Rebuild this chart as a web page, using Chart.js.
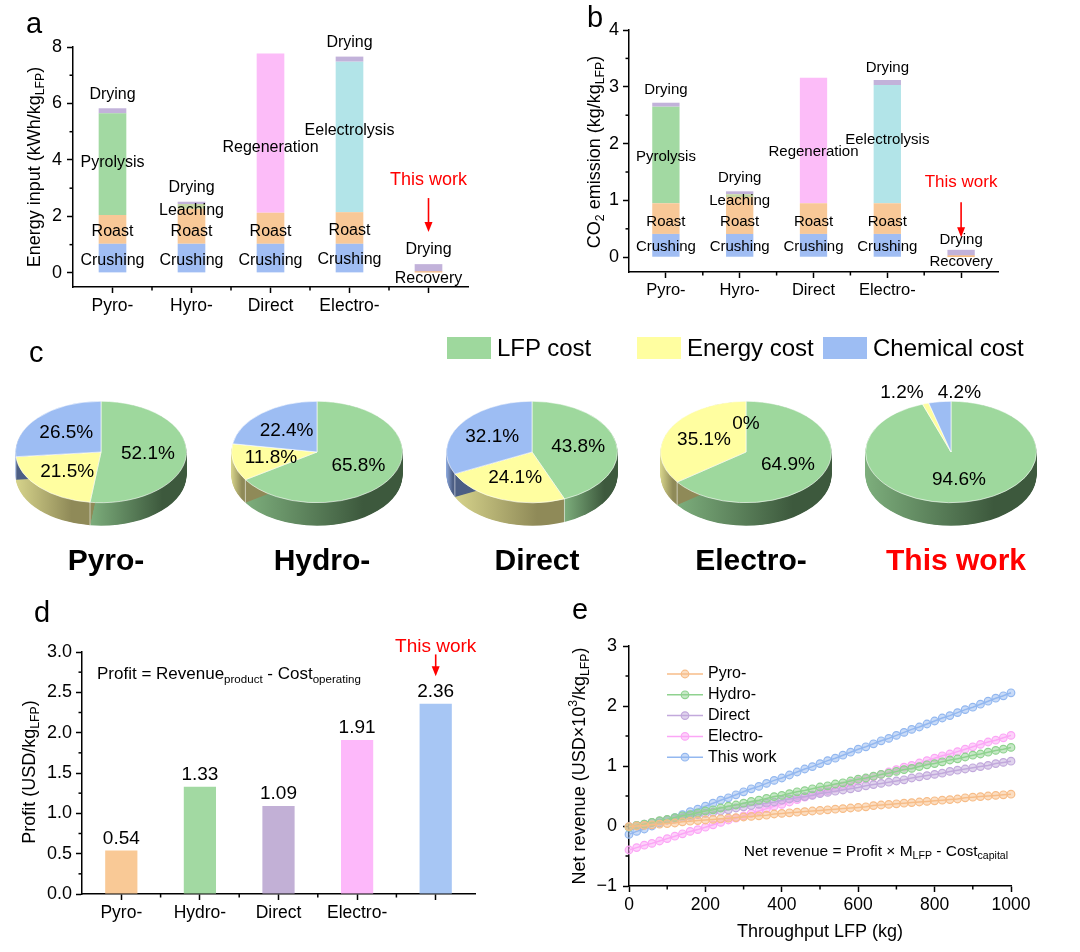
<!DOCTYPE html>
<html>
<head>
<meta charset="utf-8">
<script src="https://cdn.jsdelivr.net/npm/chart.js@4.4.1/dist/chart.umd.min.js"></script>
<style>
  html, body { margin: 0; padding: 0; background: #fff; }
  #fig { position: relative; width: 1080px; height: 952px; overflow: hidden;
         font-family: 'Liberation Sans', Arial, sans-serif; color: #000; }
  canvas { position: absolute; }
  .tag { position: absolute; font-size: 29px; line-height: 29px; }
  .pname { position: absolute; width: 200px; text-align: center; font-size: 30px; line-height: 30px; font-weight: bold; }
  .leg { position: absolute; font-size: 24px; line-height: 24px; white-space: nowrap; }
  .box { position: absolute; width: 44px; height: 22px; }
</style>
</head>
<body>
<div id="fig">
  <canvas id="ca" width="500" height="330" style="left:0;top:0"></canvas>
  <canvas id="cb" width="540" height="330" style="left:500px;top:0"></canvas>
  <canvas id="cd" width="500" height="352" style="left:0;top:600px"></canvas>
  <canvas id="ce" width="540" height="372" style="left:540px;top:580px"></canvas>

  <div class="tag" style="left:26px;top:9px">a</div>
  <div class="tag" style="left:587px;top:3px">b</div>
  <div class="tag" style="left:29px;top:338px">c</div>
  <div class="tag" style="left:34px;top:598px">d</div>
  <div class="tag" style="left:572px;top:595px">e</div>
</div>
<script>
// ---- data ----
var processes = ['Pyro-', 'Hyro-', 'Direct', 'Electro-', ''];

// energy input, kWh/kg LFP (stack segments)
var recoveryE     = [0, 0, 0, 0, 0.05];
var crushingE     = [1.03, 1.03, 1.03, 1.03, 0];
var roastE        = [1.02, 1.24, 1.10, 1.12, 0];
var leachingE     = [0, 0.17, 0, 0, 0];
var pyrolysisE    = [3.60, 0, 0, 0, 0];
var regenerationE = [0, 0, 5.64, 0, 0];
var electrolysisE = [0, 0, 0, 5.33, 0];
var dryingE       = [0.18, 0.08, 0, 0.18, 0.26];

// CO2 emission, kg/kg LFP
var recoveryC     = [0, 0, 0, 0, 0.03];
var crushingC     = [0.41, 0.41, 0.41, 0.41, 0];
var roastC        = [0.54, 0.65, 0.54, 0.54, 0];
var leachingC     = [0, 0.05, 0, 0, 0];
var pyrolysisC    = [1.70, 0, 0, 0, 0];
var regenerationC = [0, 0, 2.21, 0, 0];
var electrolysisC = [0, 0, 0, 2.08, 0];
var dryingC       = [0.07, 0.05, 0, 0.09, 0.10];

// cost shares, %
var pieNames      = ['Pyro-', 'Hydro-', 'Direct', 'Electro-', 'This work'];
var costLabels    = ['LFP cost', 'Energy cost', 'Chemical cost'];
var lfpShare      = [52.1, 65.8, 43.8, 64.9, 94.6];
var energyShare   = [21.5, 11.8, 24.1, 35.1, 1.2];
var chemicalShare = [26.5, 22.4, 32.1, 0, 4.2];

// profit, USD/kg LFP
var profitLabels = ['Pyro-', 'Hydro-', 'Direct', 'Electro-', ''];
var profit       = [0.54, 1.33, 1.09, 1.91, 2.36];

// net revenue, USD x10^3 / kg LFP
var seriesNames = ['Pyro-', 'Hydro-', 'Direct', 'Electro-', 'This work'];
var throughput = [0,20,40,60,80,100,120,140,160,180,200,220,240,260,280,300,320,340,360,380,400,420,440,460,480,500,
  520,540,560,580,600,620,640,660,680,700,720,740,760,780,800,820,840,860,880,900,920,940,960,980,1000];
var revPyro = [-0.01,0.00,0.01,0.02,0.03,0.04,0.05,0.07,0.08,0.09, 0.10,0.11,0.12,0.13,0.14,0.15,0.16,0.17,0.18,0.20,
  0.21,0.22,0.23,0.24,0.25,0.26,0.27,0.28,0.29,0.30, 0.31,0.32,0.34,0.35,0.36,0.37,0.38,0.39,0.40,0.41,
  0.42,0.43,0.44,0.45,0.47,0.48,0.49,0.50,0.51,0.52, 0.53];
var revHydro = [-0.02,0.01,0.03,0.06,0.09,0.11,0.14,0.17,0.19,0.22, 0.25,0.27,0.30,0.33,0.35,0.38,0.41,0.43,0.46,0.49,
  0.51,0.54,0.57,0.59,0.62,0.65,0.67,0.70,0.72,0.75, 0.78,0.80,0.83,0.86,0.88,0.91,0.94,0.96,0.99,1.02,
  1.04,1.07,1.10,1.12,1.15,1.18,1.20,1.23,1.26,1.28, 1.31];
var revDirect = [-0.01,0.01,0.03,0.06,0.08,0.10,0.12,0.14,0.16,0.19, 0.21,0.23,0.25,0.27,0.30,0.32,0.34,0.36,0.38,0.40,
  0.43,0.45,0.47,0.49,0.51,0.54,0.56,0.58,0.60,0.62, 0.64,0.67,0.69,0.71,0.73,0.75,0.77,0.80,0.82,0.84,
  0.86,0.88,0.91,0.93,0.95,0.97,0.99,1.01,1.04,1.06, 1.08];
var revElectro = [-0.40,-0.36,-0.32,-0.29,-0.25,-0.21,-0.17,-0.13,-0.09,-0.06, -0.02,0.02,0.06,0.10,0.13,0.17,0.21,0.25,0.29,0.33,
  0.36,0.40,0.44,0.48,0.52,0.56,0.59,0.63,0.67,0.71, 0.75,0.78,0.82,0.86,0.90,0.94,0.98,1.01,1.05,1.09,
  1.13,1.17,1.20,1.24,1.28,1.32,1.36,1.40,1.43,1.47, 1.51];
var revThis = [-0.14,-0.09,-0.05,0.00,0.05,0.10,0.14,0.19,0.24,0.28, 0.33,0.38,0.43,0.47,0.52,0.57,0.62,0.66,0.71,0.76,
  0.80,0.85,0.90,0.95,0.99,1.04,1.09,1.13,1.18,1.23, 1.28,1.32,1.37,1.42,1.46,1.51,1.56,1.61,1.65,1.70,
  1.75,1.80,1.84,1.89,1.94,1.98,2.03,2.08,2.13,2.17, 2.22];

// ---- styling ----
var FONT = "'Liberation Sans', Arial, sans-serif";
Chart.defaults.font.family = FONT;
Chart.defaults.color = '#000';

var C = {
  recovery: '#f6a553', crushing: '#a0bdf3', roast: '#f8c897', leaching: '#c6d8a6',
  pyrolysis: '#a2d9a2', regeneration: '#fcbcf8', electrolysis: '#b2e4e8', drying: '#c2b2da'
};
var pieTop   = ['#9ed89d', '#fffea0', '#9dbdf3'];
var sideLite = ['#7dae7c', '#d6d38b', '#8aa5d8'];
var sideDark = ['#3d593d', '#8f8a58', '#4c5e84'];
var profitColors = ['#f9c996', '#a2d9a2', '#c2b0d6', '#fdb8fa', '#a7c6f4'];
var lineColors = ['#f7bd88', '#8fd28f', '#c2a9dc', '#fca6f6', '#93b8f0'];

// text with sub/superscripts drawn on canvas
function richText(ctx, parts, x, y, size, align, color) {
  ctx.save();
  ctx.fillStyle = color || '#000';
  ctx.textBaseline = 'middle';
  ctx.textAlign = 'left';
  var w = 0;
  var m = parts.map(function (p) {
    var fs = p[1] ? size * 0.68 : size;
    ctx.font = fs + 'px ' + FONT;
    var tw = ctx.measureText(p[0]).width;
    w += tw;
    return [p[0], p[1], fs, tw];
  });
  var cx = align === 'center' ? x - w / 2 : (align === 'right' ? x - w : x);
  m.forEach(function (p) {
    ctx.font = p[2] + 'px ' + FONT;
    var dy = p[1] === 'sub' ? size * 0.3 : (p[1] === 'sup' ? -size * 0.35 : 0);
    ctx.fillText(p[0], cx, y + dy);
    cx += p[3];
  });
  ctx.restore();
}

function seg(ctx, x1, y1, x2, y2) {
  ctx.beginPath(); ctx.moveTo(x1, y1); ctx.lineTo(x2, y2); ctx.stroke();
}

function arrow(ctx, x, y1, y2) {
  ctx.save();
  ctx.strokeStyle = '#ff0000'; ctx.fillStyle = '#ff0000'; ctx.lineWidth = 1.6;
  seg(ctx, x, y1, x, y2 - 8);
  ctx.beginPath(); ctx.moveTo(x - 4, y2 - 10); ctx.lineTo(x + 4, y2 - 10); ctx.lineTo(x, y2); ctx.closePath(); ctx.fill();
  ctx.restore();
}

// extra drawing per chart: minor ticks, titles, in-plot labels
function decor(cfg) {
  return {
    id: 'decor',
    afterDraw: function (chart) {
      var ctx = chart.ctx, a = chart.chartArea, xs = chart.scales.x, ys = chart.scales.y;
      ctx.save();
      ctx.strokeStyle = '#000'; ctx.lineWidth = 1.5;
      (cfg.minorY || []).forEach(function (v) {
        var y = ys.getPixelForValue(v); seg(ctx, a.left, y, a.left - 3.5, y);
      });
      if (cfg.minorX === 'between') {
        for (var i = 0; i < xs.ticks.length - 1; i++) {
          var x = (xs.getPixelForValue(i) + xs.getPixelForValue(i + 1)) / 2;
          seg(ctx, x, a.bottom, x, a.bottom + 3.5);
        }
      } else {
        (cfg.minorX || []).forEach(function (v) {
          var x = xs.getPixelForValue(v); seg(ctx, x, a.bottom, x, a.bottom + 3.5);
        });
      }
      if (cfg.yTitle) {
        ctx.save();
        ctx.translate(cfg.yTitle.x, cfg.yTitle.y); ctx.rotate(-Math.PI / 2);
        richText(ctx, cfg.yTitle.parts, 0, 0, cfg.yTitle.size, 'center');
        ctx.restore();
      }
      if (cfg.xTitle) richText(ctx, cfg.xTitle.parts, cfg.xTitle.x, cfg.xTitle.y, cfg.xTitle.size, 'center');
      (cfg.labels || []).forEach(function (l) {
        ctx.font = (l.size || cfg.labelSize) + 'px ' + FONT;
        ctx.fillStyle = l.color || '#000';
        ctx.textAlign = 'center'; ctx.textBaseline = 'middle';
        ctx.fillText(l.t, xs.getPixelForValue(l.i), ys.getPixelForValue(l.v));
      });
      (cfg.arrows || []).forEach(function (r) {
        arrow(ctx, xs.getPixelForValue(r.i), ys.getPixelForValue(r.from), ys.getPixelForValue(r.to));
      });
      if (cfg.valueLabels) {
        var meta = chart.getDatasetMeta(0);
        ctx.font = '19px ' + FONT; ctx.fillStyle = '#000';
        ctx.textAlign = 'center'; ctx.textBaseline = 'middle';
        meta.data.forEach(function (bar, i) {
          ctx.fillText(chart.data.datasets[0].data[i].toFixed(2), bar.x, bar.y - 12);
        });
      }
      (cfg.rich || []).forEach(function (r) {
        var p = r.at(a, xs, ys);
        richText(ctx, r.parts, p[0], p[1], r.size, r.align);
      });
      if (cfg.legend) {
        var L = cfg.legend;
        chart.data.datasets.forEach(function (ds, k) {
          var y = a.top + L.top + k * L.dy, x0 = a.left + L.left;
          ctx.strokeStyle = ds.borderColor; ctx.lineWidth = 1.5;
          seg(ctx, x0, y, x0 + 36, y);
          ctx.beginPath(); ctx.arc(x0 + 18, y, 3.8, 0, Math.PI * 2);
          ctx.fillStyle = ds.pointBackgroundColor; ctx.fill(); ctx.lineWidth = 1.2; ctx.stroke();
          ctx.font = L.size + 'px ' + FONT; ctx.fillStyle = '#000';
          ctx.textAlign = 'left'; ctx.textBaseline = 'middle';
          ctx.fillText(ds.label, x0 + 41, y);
        });
      }
      ctx.restore();
    }
  };
}

function yAxis(o) {
  return {
    stacked: !!o.stacked, min: o.min, max: o.max,
    afterBuildTicks: function (s) { s.ticks = o.ticks.map(function (v) { return { value: v }; }); },
    afterFit: function (s) { s.width = o.width; },
    border: { display: true, color: '#000', width: 1.5 },
    grid: { drawOnChartArea: false, tickLength: 6, tickWidth: 1.5, tickColor: '#000' },
    ticks: { font: { size: 18 }, color: '#000', padding: o.pad, callback: o.fmt || function (v) { return String(v); } }
  };
}

function xCat(size, pad, stacked) {
  return {
    stacked: !!stacked,
    afterFit: function (s) { s.height = 30; },
    border: { display: true, color: '#000', width: 1.5 },
    grid: { offset: false, drawOnChartArea: false, tickLength: 6, tickWidth: 1.5, tickColor: '#000' },
    ticks: { font: { size: size }, color: '#000', padding: pad, maxRotation: 0, autoSkip: false }
  };
}

function stackSets(list) {
  return list.map(function (d) {
    return { label: d[0], data: d[1], backgroundColor: d[2], borderWidth: 0 };
  });
}

// ---- panel a ----
new Chart(document.getElementById('ca'), {
  type: 'bar',
  data: {
    labels: processes,
    datasets: stackSets([
      ['Recovery', recoveryE, C.recovery], ['Crushing', crushingE, C.crushing], ['Roast', roastE, C.roast],
      ['Leaching', leachingE, C.leaching], ['Pyrolysis', pyrolysisE, C.pyrolysis],
      ['Regeneration', regenerationE, C.regeneration], ['Electrolysis', electrolysisE, C.electrolysis],
      ['Drying', dryingE, C.drying]
    ])
  },
  options: {
    animation: false, responsive: false,
    layout: { padding: { left: 0, top: 47, right: 32, bottom: 13 } },
    datasets: { bar: { categoryPercentage: 1, barPercentage: 0.35 } },
    plugins: { legend: { display: false }, tooltip: { enabled: false } },
    scales: {
      x: xCat(17.5, 3, true),
      y: yAxis({ stacked: true, min: -0.5, max: 8, ticks: [0, 2, 4, 6, 8], width: 73, pad: 5 })
    }
  },
  plugins: [decor({
    minorY: [1, 3, 5, 7], minorX: 'between', labelSize: 16,
    yTitle: { x: 35, y: 167, size: 18, parts: [['Energy input (kWh/kg', ''], ['LFP', 'sub'], [')', '']] },
    labels: [
      { i: 0, v: 6.30, t: 'Drying' }, { i: 0, v: 3.89, t: 'Pyrolysis' }, { i: 0, v: 1.45, t: 'Roast' }, { i: 0, v: 0.42, t: 'Crushing' },
      { i: 1, v: 3.01, t: 'Drying' }, { i: 1, v: 2.19, t: 'Leaching' }, { i: 1, v: 1.45, t: 'Roast' }, { i: 1, v: 0.42, t: 'Crushing' },
      { i: 2, v: 4.42, t: 'Regeneration' }, { i: 2, v: 1.45, t: 'Roast' }, { i: 2, v: 0.42, t: 'Crushing' },
      { i: 3, v: 8.14, t: 'Drying' }, { i: 3, v: 5.03, t: 'Eelectrolysis' }, { i: 3, v: 1.49, t: 'Roast' }, { i: 3, v: 0.46, t: 'Crushing' },
      { i: 4, v: 3.29, t: 'This work', color: '#ff0000', size: 18 }, { i: 4, v: 0.81, t: 'Drying' }, { i: 4, v: -0.21, t: 'Recovery' }
    ],
    arrows: [{ i: 4, from: 2.65, to: 1.45 }]
  })]
});

// ---- panel b ----
new Chart(document.getElementById('cb'), {
  type: 'bar',
  data: {
    labels: processes,
    datasets: stackSets([
      ['Recovery', recoveryC, C.recovery], ['Crushing', crushingC, C.crushing], ['Roast', roastC, C.roast],
      ['Leaching', leachingC, C.leaching], ['Pyrolysis', pyrolysisC, C.pyrolysis],
      ['Regeneration', regenerationC, C.regeneration], ['Electrolysis', electrolysisC, C.electrolysis],
      ['Drying', dryingC, C.drying]
    ])
  },
  options: {
    animation: false, responsive: false,
    layout: { padding: { left: 0, top: 30, right: 42, bottom: 28 } },
    datasets: { bar: { categoryPercentage: 1, barPercentage: 0.37 } },
    plugins: { legend: { display: false }, tooltip: { enabled: false } },
    scales: {
      x: xCat(16.5, 3, true),
      y: yAxis({ stacked: true, min: -0.26, max: 4, ticks: [0, 1, 2, 3, 4], width: 129, pad: 4 })
    }
  },
  plugins: [decor({
    minorY: [0.5, 1.5, 2.5, 3.5], minorX: 'between', labelSize: 15,
    yTitle: { x: 95, y: 152, size: 18, parts: [['CO', ''], ['2', 'sub'], [' emission (kg/kg', ''], ['LFP', 'sub'], [')', '']] },
    labels: [
      { i: 0, v: 2.94, t: 'Drying' }, { i: 0, v: 1.76, t: 'Pyrolysis' }, { i: 0, v: 0.63, t: 'Roast' }, { i: 0, v: 0.19, t: 'Crushing' },
      { i: 1, v: 1.39, t: 'Drying' }, { i: 1, v: 0.99, t: 'Leaching' }, { i: 1, v: 0.63, t: 'Roast' }, { i: 1, v: 0.19, t: 'Crushing' },
      { i: 2, v: 1.85, t: 'Regeneration' }, { i: 2, v: 0.63, t: 'Roast' }, { i: 2, v: 0.19, t: 'Crushing' },
      { i: 3, v: 3.33, t: 'Drying' }, { i: 3, v: 2.06, t: 'Eelectrolysis' }, { i: 3, v: 0.63, t: 'Roast' }, { i: 3, v: 0.19, t: 'Crushing' },
      { i: 4, v: 1.32, t: 'This work', color: '#ff0000', size: 17 }, { i: 4, v: 0.31, t: 'Drying' }, { i: 4, v: -0.09, t: 'Recovery' }
    ],
    arrows: [{ i: 4, from: 0.97, to: 0.35 }]
  })]
});

// ---- panel c: tilted pies ----
var K = 0.593, DEPTH = 23;
var pie3d = {
  id: 'pie3d',
  beforeDatasetsDraw: function (chart) {
    var ctx = chart.ctx, meta = chart.getDatasetMeta(0);
    var cx = meta.data[0].x, cy = meta.data[0].y;
    ctx.save();
    ctx.translate(cx, cy); ctx.scale(1, K); ctx.translate(-cx, -cy);
    var D = DEPTH / K;
    meta.data.forEach(function (arc, i) {
      var s = arc.startAngle, e = arc.endAngle, r = arc.outerRadius;
      if (e - s <= 0) return;
      var a0 = Math.max(s, 0), a1 = Math.min(e, Math.PI);
      if (a1 <= a0) return;
      var g = ctx.createLinearGradient(cx + r * Math.cos(a1), 0, cx + r * Math.cos(a0), 0);
      g.addColorStop(0, sideLite[i]); g.addColorStop(0.75, sideDark[i]); g.addColorStop(1, sideDark[i]);
      ctx.fillStyle = g;
      for (var off = D; off >= 0; off -= 1) {
        ctx.beginPath(); ctx.moveTo(cx, cy + off); ctx.arc(cx, cy + off, r, s, e); ctx.closePath(); ctx.fill();
      }
    });
    ctx.strokeStyle = 'rgba(255,255,255,0.7)'; ctx.lineWidth = 1;
    meta.data.forEach(function (arc) {
      var t = arc.startAngle, r = arc.outerRadius;
      if (t > 0 && t < Math.PI) seg(ctx, cx + r * Math.cos(t), cy + r * Math.sin(t), cx + r * Math.cos(t), cy + r * Math.sin(t) + D);
    });
  },
  afterDatasetsDraw: function (chart) {
    var ctx = chart.ctx;
    ctx.restore();
    var meta = chart.getDatasetMeta(0), vals = chart.data.datasets[0].data;
    var cx = meta.data[0].x, cy = meta.data[0].y;
    ctx.save();
    ctx.font = '19px ' + FONT; ctx.fillStyle = '#000'; ctx.textBaseline = 'middle';
    meta.data.forEach(function (arc, i) {
      var v = vals[i], mid = (arc.startAngle + arc.endAngle) / 2, r = arc.outerRadius;
      var x, y, align = 'center';
      if (v > 0 && v < 5) {
        x = cx + r * Math.cos(mid) - 2; y = cy - K * r - 9; align = i === 1 ? 'right' : 'left';
      } else {
        x = cx + 0.55 * r * Math.cos(mid); y = cy + K * 0.55 * r * Math.sin(mid);
      }
      ctx.textAlign = align;
      ctx.fillText(v + '%', x, y);
    });
    ctx.restore();
  }
};

var pieCenters = [101, 317, 532, 746, 951];
var fig = document.getElementById('fig');
pieNames.forEach(function (name, k) {
  var cv = document.createElement('canvas');
  cv.width = 200; cv.height = 200;
  cv.style.left = (pieCenters[k] - 100) + 'px'; cv.style.top = '352px';
  fig.appendChild(cv);
  new Chart(cv, {
    type: 'pie',
    data: {
      labels: costLabels,
      datasets: [{
        data: [lfpShare[k], energyShare[k], chemicalShare[k]],
        backgroundColor: pieTop, borderColor: 'rgba(255,255,255,0.75)', borderWidth: 1
      }]
    },
    options: {
      animation: false, responsive: false, events: [],
      layout: { padding: 14 },
      plugins: { legend: { display: false }, tooltip: { enabled: false } }
    },
    plugins: [pie3d]
  });
  var d = document.createElement('div');
  d.className = 'pname';
  d.textContent = name;
  d.style.left = (pieCenters[k] + 5 - 100) + 'px';
  d.style.top = '545px';
  if (k === 4) d.style.color = '#ff0000';
  fig.appendChild(d);
});

var legX = [447, 637, 823];
costLabels.forEach(function (lab, i) {
  var b = document.createElement('div');
  b.className = 'box'; b.style.left = legX[i] + 'px'; b.style.top = '337px'; b.style.background = pieTop[i];
  fig.appendChild(b);
  var t = document.createElement('div');
  t.className = 'leg'; t.textContent = lab; t.style.left = (legX[i] + 50) + 'px'; t.style.top = '336px';
  fig.appendChild(t);
});

// ---- panel d ----
new Chart(document.getElementById('cd'), {
  type: 'bar',
  data: {
    labels: profitLabels,
    datasets: [{ label: 'Profit', data: profit, backgroundColor: profitColors, borderWidth: 0 }]
  },
  options: {
    animation: false, responsive: false,
    layout: { padding: { left: 0, top: 52, right: 25, bottom: 28 } },
    datasets: { bar: { categoryPercentage: 1, barPercentage: 0.41 } },
    plugins: { legend: { display: false }, tooltip: { enabled: false } },
    scales: {
      x: xCat(17.5, 3),
      y: yAxis({ min: 0, max: 3, ticks: [0, 0.5, 1, 1.5, 2, 2.5, 3], width: 82, pad: 4,
                 fmt: function (v) { return v.toFixed(1); } })
    }
  },
  plugins: [decor({
    minorY: [0.25, 0.75, 1.25, 1.75, 2.25, 2.75], minorX: 'between', valueLabels: true,
    yTitle: { x: 30, y: 172, size: 18, parts: [['Profit (USD/kg', ''], ['LFP', 'sub'], [')', '']] },
    labels: [{ i: 4, v: 3.07, t: 'This work', color: '#ff0000', size: 19 }],
    arrows: [{ i: 4, from: 2.97, to: 2.70 }],
    rich: [{ size: 17, align: 'left',
             parts: [['Profit = Revenue', ''], ['product', 'sub'], [' - Cost', ''], ['operating', 'sub']],
             at: function (a, xs, ys) { return [a.left + 15, ys.getPixelForValue(2.72)]; } }]
  })]
});

// ---- panel e ----
var revenue = [revPyro, revHydro, revDirect, revElectro, revThis];
new Chart(document.getElementById('ce'), {
  type: 'line',
  data: {
    datasets: seriesNames.map(function (n, k) {
      return {
        label: n,
        data: throughput.map(function (x, i) { return { x: x, y: revenue[k][i] }; }),
        borderColor: lineColors[k], pointBorderColor: lineColors[k],
        pointBackgroundColor: lineColors[k] + '80', backgroundColor: lineColors[k] + '80',
        borderWidth: 1.5, pointRadius: 3.8, pointBorderWidth: 1.2, tension: 0, clip: false
      };
    })
  },
  options: {
    animation: false, responsive: false,
    layout: { padding: { left: 0, top: 66, right: 69, bottom: 36 } },
    plugins: { legend: { display: false }, tooltip: { enabled: false } },
    scales: {
      x: {
        type: 'linear', min: 0, max: 1000,
        afterBuildTicks: function (s) { s.ticks = [0, 200, 400, 600, 800, 1000].map(function (v) { return { value: v }; }); },
        afterFit: function (s) { s.height = 30; },
        border: { display: true, color: '#000', width: 1.5 },
        grid: { drawOnChartArea: false, tickLength: 6, tickWidth: 1.5, tickColor: '#000' },
        ticks: { font: { size: 17.5 }, color: '#000', padding: 3, maxRotation: 0,
                 callback: function (v) { return String(v); } }
      },
      y: yAxis({ min: -1, max: 3, ticks: [-1, 0, 1, 2, 3], width: 89, pad: 6,
                 fmt: function (v) { return v < 0 ? '\u2212' + (-v) : String(v); } })
    }
  },
  plugins: [decor({
    minorY: [-0.5, 0.5, 1.5, 2.5], minorX: [100, 300, 500, 700, 900],
    yTitle: { x: 40, y: 186, size: 18, parts: [['Net revenue (USD\u00d710', ''], ['3', 'sup'], ['/kg', ''], ['LFP', 'sub'], [')', '']] },
    xTitle: { x: 280, y: 352, size: 18, parts: [['Throughput LFP (kg)', '']] },
    legend: { left: 38, top: 28, dy: 20.8, size: 16 },
    rich: [{ size: 15.5, align: 'right',
             parts: [['Net revenue = Profit \u00d7 M', ''], ['LFP', 'sub'], [' - Cost', ''], ['capital', 'sub']],
             at: function (a, xs, ys) { return [a.right - 3, ys.getPixelForValue(-0.43)]; } }]
  })]
});
</script>
</body>
</html>
